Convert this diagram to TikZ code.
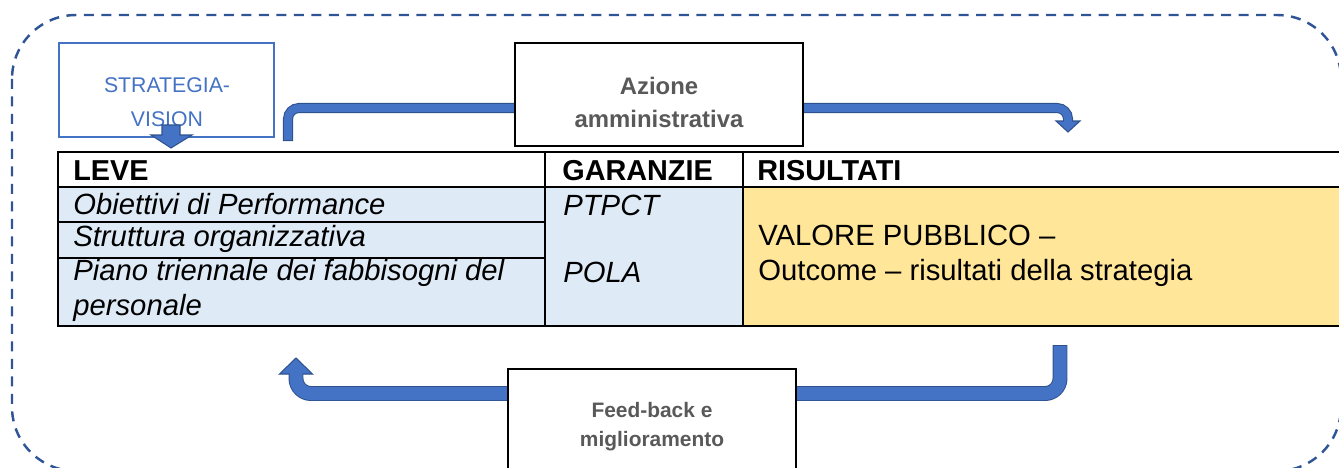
\documentclass[tikz,border=0pt]{standalone}
\usepackage{fontspec}
\setmainfont{Liberation Sans}
\usepackage{tikz}
\usetikzlibrary{positioning,calc}
\definecolor{frameblue}{HTML}{2F5597}
\definecolor{arrowblue}{HTML}{4472C4}
\definecolor{arrowedge}{HTML}{2F528F}
\definecolor{boxgray}{HTML}{595959}
\definecolor{cellblue}{HTML}{DEEBF7}
\definecolor{cellyellow}{HTML}{FFE699}
\newcommand\tablefont{\fontsize{16.65}{19.8}\selectfont}
\newcommand\headfont{\fontsize{16.4}{19.8}\selectfont\bfseries}
\newcommand\boxfont{\fontsize{13.6}{18.7}\selectfont\bfseries}
\newcommand\feedfont{\fontsize{11.9}{16.4}\selectfont\bfseries}
\newcommand\stratfont{\fontsize{12.1}{19.3}\selectfont}
\tikzset{
loopframe/.style={draw=frameblue, line width=1.4pt, dash pattern=on 0.2cm off 0.15cm, rounded corners=1.28cm}, % dashed loop round everything
gridline/.style={black, line width=1.2pt},
celltext/.style={inner sep=0pt, anchor=base west, align=left, font=\tablefont},
labelbox/.style={draw=black, line width=1.1pt, fill=white, inner sep=0pt, minimum width=5.76cm, minimum height=2.06cm},
labeltext/.style={inner sep=0pt, anchor=base, align=center, text=boxgray},
shaftedge/.style={draw=arrowedge},
shaftfill/.style={draw=arrowblue},
tiphead/.style={fill=arrowblue, draw=arrowedge, line width=0.6pt, line join=miter}
}

\begin{document}
\begin{tikzpicture}[x=0.02cm, y=0.02cm]
        \useasboundingbox (0,0) rectangle (1339,-467);
        \draw [loopframe] (12,-15) rectangle (1341,-471);
        % upper arrow, it runs behind the Azione box
        \coordinate (top start) at (288,-141);
        \coordinate (top end) at (1068,-121);
        \draw [shaftedge, line width=5.7pt, rounded corners=0.22cm] (top start) -- (288,-108) -- (1068,-108) -- (top end);
        \filldraw [tiphead] (top end) ++(-12,0) -- ++(24,0) -- ++(-12,-11) -- cycle;
        \draw [shaftfill, line width=4.5pt, rounded corners=0.22cm, shorten <=0.6pt, shorten >=-1.5pt] (top start) -- (288,-108) -- (1068,-108) -- (top end);
        \node [labelbox] (azione) at (659,-94.5) {};
        \node [labeltext, font=\boxfont] (azione text) at (659,-127) {Azione\\amministrativa};
        % strategy box
        \node [draw=arrowblue, line width=0.9pt, fill=white, minimum width=4.3cm, minimum height=1.88cm] (strat) at (166.5,-90) {};
        \node [inner sep=0pt, anchor=base, align=center, text=arrowblue, font=\stratfont] (strat text) at (167,-126) {STRATEGIA-\\VISION};
        \filldraw [tiphead] (162,-125) -- ++(18,0) -- ++(0,-10) -- ++(12,0) -- ++(-21,-13) -- ++(-20,13) -- ++(11,0) -- cycle;
        % table
        \fill [cellblue] (58,-187) rectangle (743,-326);
        \fill [cellyellow] (743,-187) rectangle (1350,-326);
        \draw [gridline] (1350,-152) -- (58,-152) -- (58,-326) -- (1350,-326);
        \draw [gridline] (58,-187) -- (1350,-187);
        \draw [gridline] (545,-152) -- (545,-326);
        \draw [gridline] (743,-152) -- (743,-326);
        \foreach \y in {222,258}
          \draw [gridline] (58,-\y) -- (545,-\y);
        \node [celltext, font=\headfont] (leve) at (73,-180) {LEVE};
        \node [celltext, font=\headfont] (garanzie) at (562,-180) {GARANZIE};
        \node [celltext, font=\headfont] (risultati) at (757,-180) {RISULTATI};
        \node [celltext, font=\tablefont\itshape] (obiettivi) at (73,-214) {Obiettivi di Performance};
        \node [celltext, font=\tablefont\itshape] (struttura) at (73,-246) {Struttura organizzativa};
        \node [celltext, font=\tablefont\itshape] (piano) at (73,-315) {Piano triennale dei fabbisogni del\\personale};
        \node [celltext, font=\tablefont\itshape] (ptpct) at (563,-215) {PTPCT};
        \node [celltext, font=\tablefont\itshape] (pola) at (563,-282) {POLA};
        \node [celltext] (valore) at (758,-280) {VALORE PUBBLICO --\\Outcome -- risultati della strategia};
        % lower arrow, back to the levers
        \coordinate (low start) at (1060,-345);
        \coordinate (low end) at (296,-374);
        \draw [shaftedge, line width=8.5pt, rounded corners=0.3cm] (low start) -- (1060,-393.5) -- (296,-393.5) -- (low end);
        \filldraw [tiphead] (low end) ++(-16.5,0) -- ++(33,0) -- ++(-16.5,16) -- cycle;
        \draw [shaftfill, line width=7.4pt, rounded corners=0.3cm, shorten <=0.6pt, shorten >=-1.5pt] (low start) -- (1060,-393.5) -- (296,-393.5) -- (low end);
        \node [labelbox] (feedback) at (652,-420.5) {};
        \node [labeltext, font=\feedfont] (feedback text) at (652,-446) {Feed-back e\\miglioramento};
\end{tikzpicture}
\end{document}
